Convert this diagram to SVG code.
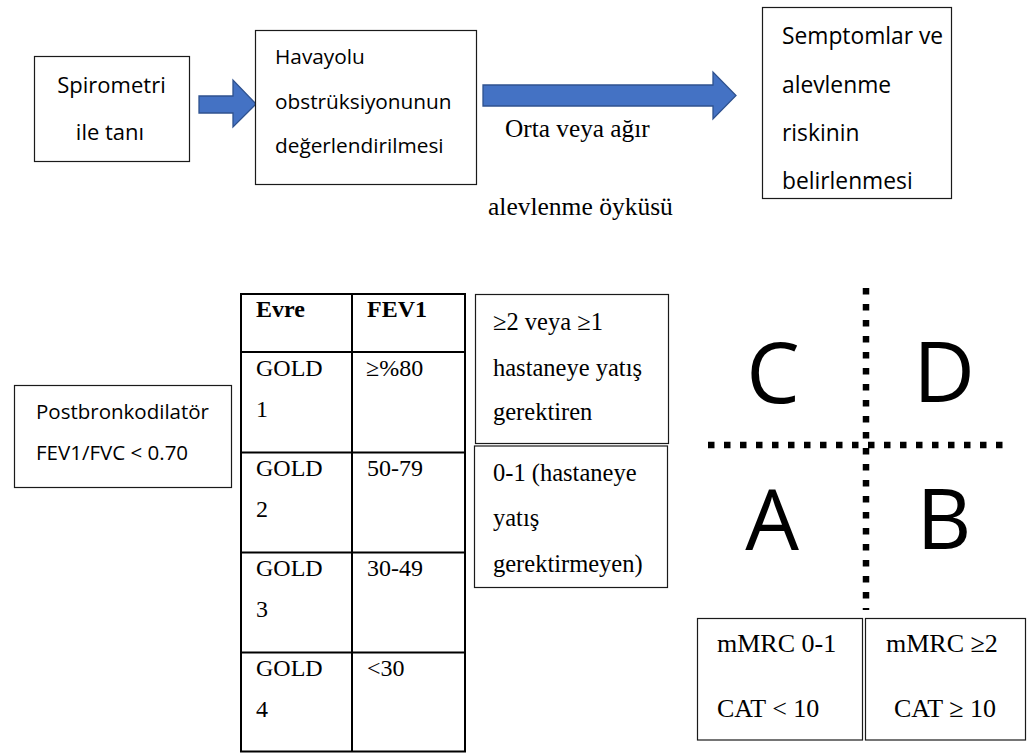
<svg xmlns="http://www.w3.org/2000/svg" width="1029" height="753" viewBox="0 0 1029 753">
<defs>
<style>
.box{fill:#fff;stroke:#1a1a1a;stroke-width:1.2}
.sans{font-family:"Open Sans","Noto Sans","Liberation Sans",sans-serif;fill:#000}
.serif{font-family:"Liberation Serif","Times New Roman",serif;fill:#000}
.arrow{fill:#4472C4;stroke:#2F528F;stroke-width:1.3;stroke-linejoin:miter}
.tbl{fill:none;stroke:#000;stroke-width:2}
.dots{fill:none;stroke:#000;stroke-width:6.5;stroke-dasharray:6.5 9.5}
.big{font-family:"Open Sans","Noto Sans","Liberation Sans",sans-serif;font-size:85px;fill:#000;text-anchor:middle}
</style>
</defs>
<rect width="1029" height="753" fill="#fff"/>

<g id="connectors">
<polygon class="arrow" points="199,96 233,96 233,80 256,104 233,127 233,113 199,113"/>
<polygon class="arrow" points="483,85 713,85 713,72 736,95.5 713,119 713,106 483,106"/>
</g>

<g id="node-spirometri">
<rect class="box" x="34.5" y="56.5" width="155" height="105"/>
<text class="sans" font-size="22" x="111.5" y="93" text-anchor="middle">Spirometri</text>
<text class="sans" font-size="22" x="110" y="140" text-anchor="middle">ile tanı</text>
</g>

<g id="node-havayolu">
<rect class="box" x="255.5" y="30.5" width="221" height="154"/>
<text class="sans" font-size="20.8" x="275" y="64">Havayolu</text>
<text class="sans" font-size="20.8" x="275" y="108.5">obstrüksiyonunun</text>
<text class="sans" font-size="20.8" x="275" y="152.5">değerlendirilmesi</text>
</g>

<g id="label-alevlenme">
<text class="serif" font-size="25.3" x="505" y="137">Orta veya ağır</text>
<text class="serif" font-size="25.5" x="488" y="215">alevlenme öyküsü</text>
</g>

<g id="node-semptomlar">
<rect class="box" x="762.5" y="7.5" width="189" height="191"/>
<text class="sans" font-size="22.8" x="782" y="43.5">Semptomlar ve</text>
<text class="sans" font-size="22.8" x="782" y="92.5">alevlenme</text>
<text class="sans" font-size="22.8" x="782" y="140.5">riskinin</text>
<text class="sans" font-size="22.8" x="782" y="189">belirlenmesi</text>
</g>

<g id="node-postbronkodilator">
<rect class="box" x="14.5" y="385.5" width="217" height="102"/>
<text class="sans" font-size="20.5" x="36" y="419">Postbronkodilatör</text>
<text class="sans" font-size="20.5" x="36" y="460">FEV1/FVC &lt; 0.70</text>
</g>

<g id="node-table">
<rect class="tbl" x="241" y="294" width="224" height="457.5"/>
<line class="tbl" x1="352" y1="294" x2="352" y2="751.5"/>
<line class="tbl" x1="241" y1="352" x2="465" y2="352"/>
<line class="tbl" x1="241" y1="452.5" x2="465" y2="452.5"/>
<line class="tbl" x1="241" y1="552.5" x2="465" y2="552.5"/>
<line class="tbl" x1="241" y1="652.5" x2="465" y2="652.5"/>
<text class="serif" font-size="24" font-weight="bold" x="256" y="317">Evre</text>
<text class="serif" font-size="24" font-weight="bold" x="367" y="317">FEV1</text>
<text class="serif" font-size="24" x="256" y="375.5">GOLD</text>
<text class="serif" font-size="24" x="256" y="417">1</text>
<text class="serif" font-size="24" x="366" y="375.5">≥%80</text>
<text class="serif" font-size="24" x="256" y="475.5">GOLD</text>
<text class="serif" font-size="24" x="256" y="517">2</text>
<text class="serif" font-size="24" x="367" y="475.5">50-79</text>
<text class="serif" font-size="24" x="256" y="575.5">GOLD</text>
<text class="serif" font-size="24" x="256" y="617">3</text>
<text class="serif" font-size="24" x="367" y="575.5">30-49</text>
<text class="serif" font-size="24" x="256" y="675.5">GOLD</text>
<text class="serif" font-size="24" x="256" y="717">4</text>
<text class="serif" font-size="24" x="367" y="675.5">&lt;30</text>
</g>

<g id="node-risk-high">
<rect class="box" x="475.5" y="294.5" width="193" height="149"/>
<text class="serif" font-size="24.5" x="493" y="329.5">≥2 veya ≥1</text>
<text class="serif" font-size="24.5" x="493" y="376">hastaneye yatış</text>
<text class="serif" font-size="24.5" x="493" y="420">gerektiren</text>
</g>

<g id="node-risk-low">
<rect class="box" x="474.5" y="446" width="193" height="141.5"/>
<text class="serif" font-size="24.5" x="493" y="481">0-1 (hastaneye</text>
<text class="serif" font-size="24.5" x="493" y="526">yatış</text>
<text class="serif" font-size="24.5" x="493" y="572">gerektirmeyen)</text>
</g>

<g id="node-quadrant">
<line class="dots" x1="866" y1="288" x2="866" y2="610"/>
<line class="dots" x1="708" y1="445" x2="1010" y2="445"/>
<text class="big" x="773" y="403">C</text>
<text class="big" x="944" y="402">D</text>
<text class="big" x="772" y="550">A</text>
<text class="big" x="944" y="549">B</text>
</g>

<g id="node-mmrc-low">
<rect class="box" x="697.5" y="618.5" width="165" height="121.5"/>
<text class="serif" font-size="26" x="717" y="652">mMRC 0-1</text>
<text class="serif" font-size="26" x="717" y="717">CAT &lt; 10</text>
</g>

<g id="node-mmrc-high">
<rect class="box" x="865.5" y="618.5" width="160" height="121.5"/>
<text class="serif" font-size="26" x="886" y="652">mMRC ≥2</text>
<text class="serif" font-size="26" x="894" y="717">CAT ≥ 10</text>
</g>
</svg>
